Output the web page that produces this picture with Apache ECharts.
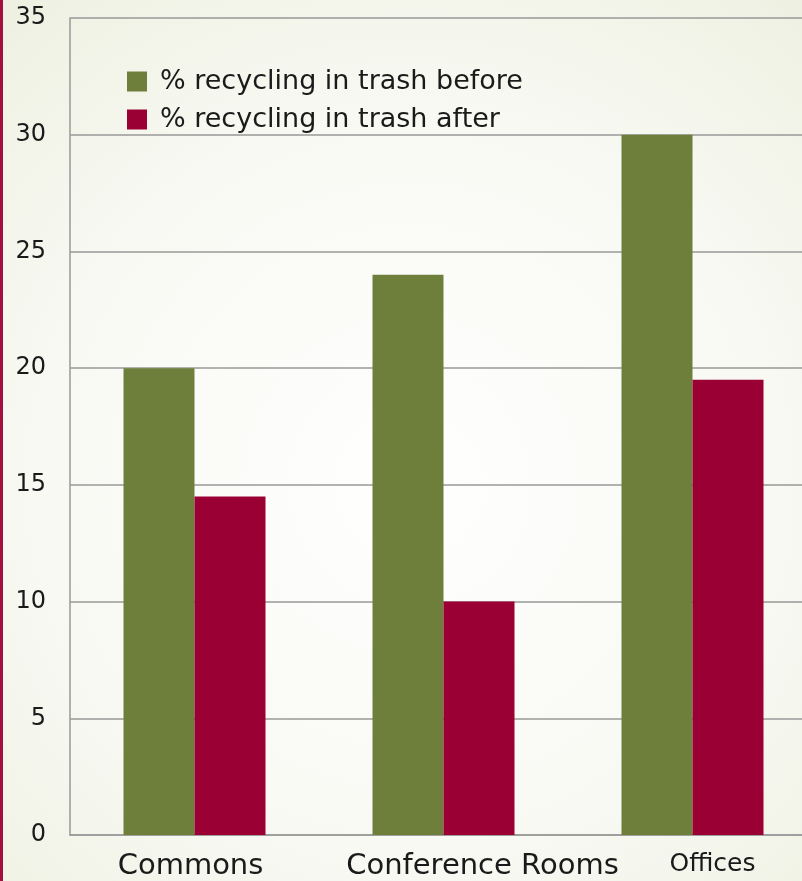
<!DOCTYPE html>
<html>
<head>
<meta charset="utf-8">
<script src="https://cdn.jsdelivr.net/npm/echarts@6/dist/echarts.min.js"></script>
<style>
  html, body { margin: 0; padding: 0; overflow: hidden; width: 802px; height: 881px; }
  #chart { width: 820px; height: 881px; }
</style>
</head>
<body>
<div id="chart"></div>
<script>
const categories = ['Commons', 'Conference Rooms', 'Offices'];
const beforeValues = [20, 24, 30];
const afterValues = [14.5, 10, 19.5];
const seriesNames = ['% recycling in trash before', '% recycling in trash after'];

const chart = echarts.init(document.getElementById('chart'));
const font = 'DejaVu Sans';

chart.setOption({
  backgroundColor: {
    type: 'radial', x: 0.5, y: 0.55, r: 0.75,
    colorStops: [
      { offset: 0, color: '#ffffff' },
      { offset: 0.6, color: '#f8f9f3' },
      { offset: 1, color: '#eef1e2' }
    ]
  },
  animation: false,
  graphic: [
    { type: 'rect', left: 0, top: 0, shape: { width: 3, height: 881 }, style: { fill: '#a3103f' } }
  ],
  grid: { left: 70, top: 18, right: 3, bottom: 45 },
  legend: {
    orient: 'vertical',
    left: 122, top: 63,
    itemWidth: 20, itemHeight: 20, itemGap: 11,
    icon: 'rect',
    textStyle: { fontFamily: font, fontSize: 27, color: '#1a1a1a', padding: [0, 0, 0, 8] },
    data: seriesNames
  },
  xAxis: {
    type: 'category',
    data: categories,
    axisLine: { lineStyle: { color: '#999', width: 1.5 } },
    axisTick: { show: false },
    axisLabel: {
      interval: 0,
      margin: 17,
      fontFamily: font, fontSize: 29, color: '#1a1a1a',
      formatter: (v, i) => '{c' + i + '|' + v + '}',
      rich: {
        c0: { fontFamily: font, fontSize: 29, color: '#1a1a1a', padding: [0, 8, 0, 0] },
        c1: { fontFamily: font, fontSize: 29, color: '#1a1a1a', padding: [0, 0, 0, 78] },
        c2: { fontFamily: font, fontSize: 25, color: '#1a1a1a', padding: [0, 0, 0, 40] }
      }
    }
  },
  yAxis: {
    type: 'value',
    min: 0, max: 35, interval: 5,
    axisLine: { show: true, lineStyle: { color: '#999', width: 1.5 } },
    axisTick: { show: false },
    axisLabel: { margin: 24, fontFamily: font, fontSize: 24, color: '#1a1a1a' },
    splitLine: { lineStyle: { color: '#999', width: 1.5 } }
  },
  series: [
    {
      name: seriesNames[0], type: 'bar', data: beforeValues,
      barWidth: 71, barGap: '0%',
      itemStyle: { color: '#6e7f3b' }
    },
    {
      name: seriesNames[1], type: 'bar', data: afterValues,
      barWidth: 71, barGap: '0%',
      itemStyle: { color: '#9b0034' }
    }
  ]
});
</script>
</body>
</html>
